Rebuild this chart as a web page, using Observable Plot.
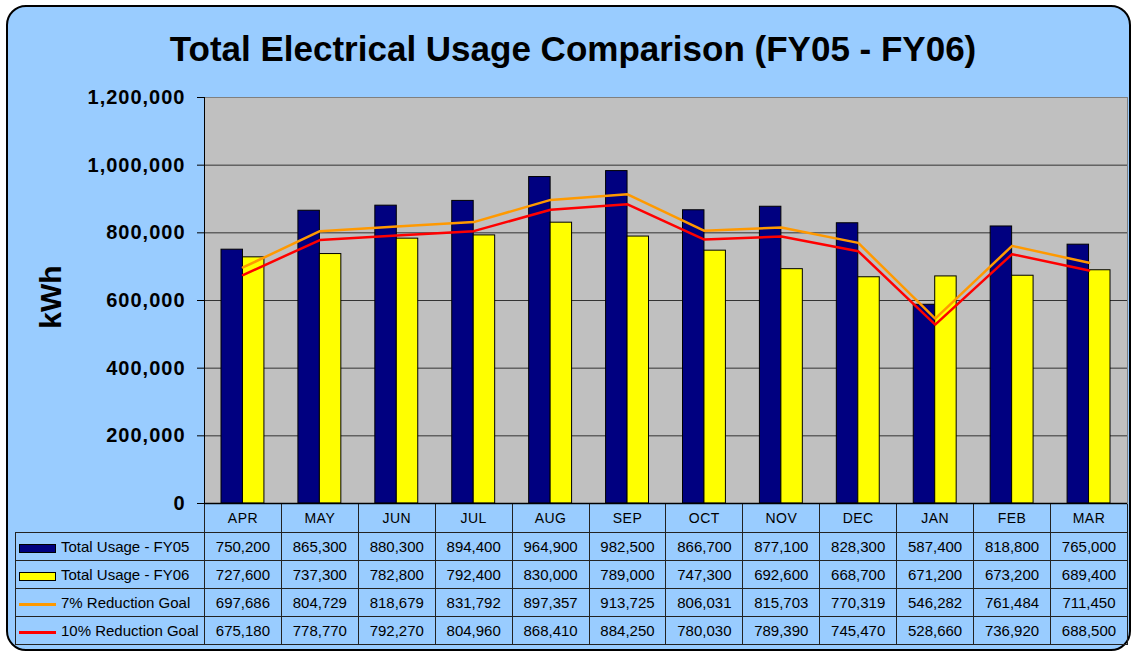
<!DOCTYPE html>
<html><head><meta charset="utf-8">
<script src="https://cdn.jsdelivr.net/npm/d3@7"></script>
<script src="https://cdn.jsdelivr.net/npm/@observablehq/plot@0.6"></script>
<style>
body{margin:0;background:#fff;font-family:"Liberation Sans",Arial,sans-serif;}
#wrap{position:relative;width:1133px;height:653px;overflow:hidden;}
#box{position:absolute;left:6px;top:5px;width:1125px;height:646px;border:2px solid #000;border-radius:20px;background:#99ccff;box-sizing:border-box;}
#title{position:absolute;left:0;top:31px;width:1146px;text-align:center;font-weight:bold;font-size:35px;line-height:35px;color:#000;white-space:nowrap;}
#ylab{position:absolute;left:51px;top:297px;transform:translate(-50%,-50%) rotate(-90deg);font-weight:bold;font-size:30px;line-height:30px;white-space:nowrap;}
#tbl{position:absolute;left:15px;top:503px;border-collapse:collapse;table-layout:fixed;width:1113px;}
#tbl td{border:1px solid #222;padding:0;text-align:center;font-size:15px;color:#000;white-space:nowrap;overflow:hidden;}
#tbl tr.hd td{height:28px;font-size:14px;letter-spacing:0.5px;}
#tbl tr.dr td{height:27px;}
#tbl td.blank{border-top:none;border-left:none;}
#tbl td.leg{text-align:left;}
.sw{display:inline-block;vertical-align:middle;margin-left:3px;margin-right:5px;box-sizing:border-box;}
#chart{position:absolute;left:0;top:0;}
</style>
</head><body>
<div id="wrap">
  <div id="box"></div>
  <div id="title">Total Electrical Usage Comparison (FY05 - FY06)</div>
  <div id="ylab">kWh</div>
  <table id="tbl"></table>
  <div id="chart"></div>
</div>
<script>
const months = ["APR","MAY","JUN","JUL","AUG","SEP","OCT","NOV","DEC","JAN","FEB","MAR"];
const fy05 = [750200,865300,880300,894400,964900,982500,866700,877100,828300,587400,818800,765000];
const fy06 = [727600,737300,782800,792400,830000,789000,747300,692600,668700,671200,673200,689400];
const goal7 = [697686,804729,818679,831792,897357,913725,806031,815703,770319,546282,761484,711450];
const goal10 = [675180,778770,792270,804960,868410,884250,780030,789390,745470,528660,736920,688500];
const yTicks = [0,200000,400000,600000,800000,1000000,1200000];
const seriesNames = ["Total Usage - FY05","Total Usage - FY06","7% Reduction Goal","10% Reduction Goal"];
const seriesColors = ["#000080","#ffff00","#ff9900","#ff0000"];
const seriesValues = [fy05, fy06, goal7, goal10];

const data = months.map((m,i)=>({month:m, fy05:fy05[i], fy06:fy06[i], g7:goal7[i], g10:goal10[i]}));

const W = 1133, H = 653, mL = 204, mR = 6, mT = 97, mB = 150;
const bw = (W - mL - mR) / months.length;
const fmt = d3.format(",");

const chart = Plot.plot({
  width: W, height: H,
  marginLeft: mL, marginRight: mR, marginTop: mT, marginBottom: mB,
  style: {background:"transparent", fontFamily:"'Liberation Sans', Arial, sans-serif", fontSize:"20px", fontWeight:"bold", letterSpacing:"1px", color:"#000", overflow:"visible"},
  x: {type:"band", domain: months, padding: 0, round: false, axis: null},
  y: {domain:[0,1200000], ticks: yTicks, tickFormat: fmt, tickSize: 7, tickPadding: 12, label: null},
  marks: [
    Plot.frame({fill:"#c0c0c0", stroke:"none"}),
    Plot.ruleY(yTicks, {stroke:"#333", strokeWidth:1}),
    Plot.barY(data, {x:"month", y:"fy05", fill:seriesColors[0], stroke:"#000", strokeWidth:1, insetLeft:17, insetRight:bw/2}),
    Plot.barY(data, {x:"month", y:"fy06", fill:seriesColors[1], stroke:"#000", strokeWidth:1, insetLeft:bw/2, insetRight:17}),
    Plot.line(data, {x:"month", y:"g7", stroke:seriesColors[2], strokeWidth:2.5}),
    Plot.line(data, {x:"month", y:"g10", stroke:seriesColors[3], strokeWidth:2.5}),
    Plot.frame({stroke:"#808080"}),
    Plot.frame({anchor:"left", stroke:"#000"}),
    Plot.ruleY([0], {stroke:"#000", strokeWidth:1.5})
  ]
});
document.getElementById("chart").appendChild(chart);

// data table
const tbl = document.getElementById("tbl");
let html = '<colgroup><col style="width:189px">' + months.map(()=>'<col>').join('') + '</colgroup>';
html += '<tr class="hd"><td class="blank"></td>' + months.map(m=>`<td>${m}</td>`).join('') + '</tr>';
seriesNames.forEach((name, s) => {
  let sw;
  if (s < 2) sw = `<span class="sw" style="width:37px;height:9px;border:1px solid #000;background:${seriesColors[s]}"></span>`;
  else sw = `<span class="sw" style="width:37px;height:3px;background:${seriesColors[s]}"></span>`;
  html += `<tr class="dr"><td class="leg">${sw}${name}</td>` + seriesValues[s].map(v=>`<td>${fmt(v)}</td>`).join('') + '</tr>';
});
tbl.innerHTML = html;
</script>
</body></html>
